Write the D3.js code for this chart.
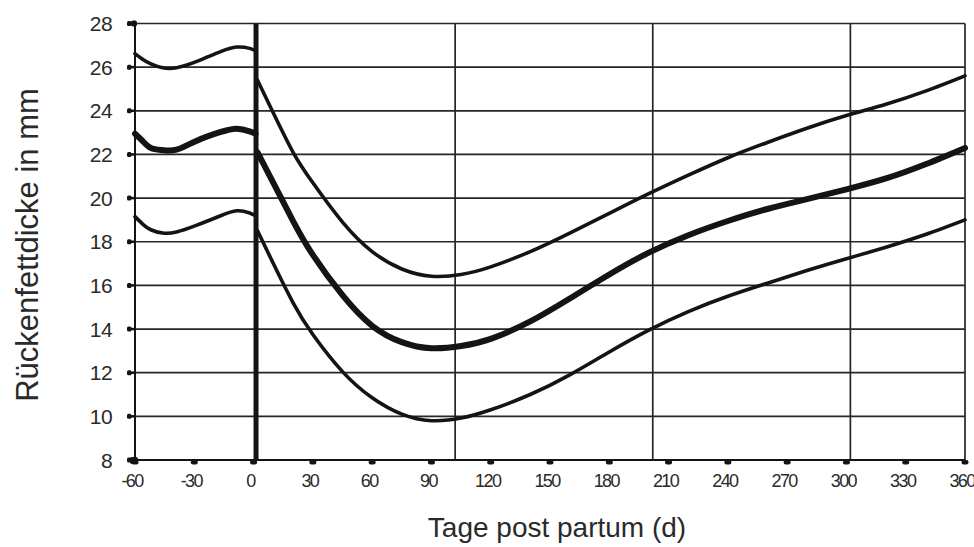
<!DOCTYPE html>
<html>
<head>
<meta charset="utf-8">
<script src="https://cdn.jsdelivr.net/npm/d3@7"></script>
<style>
  html, body { margin: 0; padding: 0; background: #fff; }
  svg { display: block; }
  text { font-family: "Liberation Sans", Arial, sans-serif; fill: #2a2a2a; }
</style>
</head>
<body>
<svg id="chart" width="974" height="547"></svg>
<script>
// Axis ticks
const xTicks = [-60, -30, 0, 30, 60, 90, 120, 150, 180, 210, 240, 270, 300, 330, 360];
const yTicks = [8, 10, 12, 14, 16, 18, 20, 22, 24, 26, 28];
// Vertical grid lines (days) and the day of parturition
const gridDays = [102, 202, 302];
const partumDay = 2;

// Backfat thickness (mm) before parturition: upper band, mean, lower band
const preDays   = [-60, -56, -52, -46, -39, -29, -17, -8.5, -2, 1];
const preUpper  = [26.62, 26.35, 26.15, 25.97, 25.97, 26.25, 26.7, 26.92, 26.86, 26.75];
const preMean   = [22.95, 22.6, 22.3, 22.2, 22.22, 22.62, 23.02, 23.18, 23.06, 22.95];
const preLower  = [19.15, 18.8, 18.55, 18.4, 18.45, 18.75, 19.18, 19.42, 19.32, 19.2];

// Backfat thickness (mm) after parturition
const postDays  = [2, 10, 20, 30, 45, 60, 75, 90, 105, 120, 140, 160, 180, 200, 220, 240, 260, 280, 300, 320, 340, 360];
const postUpper = [25.4, 23.9, 22.1, 20.7, 18.9, 17.55, 16.75, 16.42, 16.5, 16.85, 17.55, 18.4, 19.3, 20.2, 21.05, 21.85, 22.55, 23.2, 23.78, 24.3, 24.9, 25.6];
const postMean  = [22.1, 20.7, 18.95, 17.4, 15.55, 14.15, 13.4, 13.12, 13.22, 13.55, 14.35, 15.4, 16.5, 17.5, 18.3, 18.95, 19.5, 19.95, 20.4, 20.9, 21.55, 22.3];
const postLower = [18.5, 17.0, 15.2, 13.75, 12.05, 10.85, 10.1, 9.8, 9.92, 10.3, 11.0, 11.9, 12.95, 13.95, 14.8, 15.5, 16.1, 16.68, 17.22, 17.75, 18.33, 19.0];

const svg = d3.select("#chart");
const x = d3.scaleLinear().domain([-60, 360]).range([135, 965]);
const y = d3.scaleLinear().domain([8, 28]).range([460, 23.5]);
const ink = "#141414";

// Horizontal grid lines
svg.append("g").selectAll("line").data(yTicks).join("line")
  .attr("x1", x(-60)).attr("x2", x(360))
  .attr("y1", d => y(d)).attr("y2", d => y(d))
  .attr("stroke", "#262626").attr("stroke-width", 1.7);

// Vertical grid lines
svg.append("g").selectAll("line").data(gridDays.concat([360])).join("line")
  .attr("x1", d => x(d)).attr("x2", d => x(d))
  .attr("y1", y(28)).attr("y2", y(8))
  .attr("stroke", "#262626").attr("stroke-width", 1.7);

// Axes frame lines
svg.append("line").attr("x1", x(-60)).attr("x2", x(-60)).attr("y1", y(28)).attr("y2", y(8))
  .attr("stroke", ink).attr("stroke-width", 2);
svg.append("line").attr("x1", x(-60)).attr("x2", x(360)).attr("y1", y(8)).attr("y2", y(8))
  .attr("stroke", ink).attr("stroke-width", 2.2);

// Y ticks and labels
const yg = svg.append("g");
yg.selectAll("line").data(yTicks).join("line")
  .attr("x1", x(-60) - 7).attr("x2", x(-60))
  .attr("y1", d => y(d)).attr("y2", d => y(d))
  .attr("stroke", ink).attr("stroke-width", 2.5);
yg.selectAll("rect").data(yTicks).join("rect")
  .attr("x", x(-60) - 8).attr("y", d => y(d) - 2.5)
  .attr("width", 4.5).attr("height", 5).attr("rx", 1.5).attr("fill", ink);
yg.selectAll("text").data(yTicks).join("text")
  .attr("x", 112).attr("y", d => y(d))
  .attr("dy", "0.36em").attr("text-anchor", "end")
  .attr("font-size", 21).attr("letter-spacing", -0.6)
  .text(d => d);

// X ticks and labels
const xg = svg.append("g");
xg.selectAll("rect").data(xTicks).join("rect")
  .attr("x", d => x(d) - 3.5).attr("y", y(8))
  .attr("width", 7).attr("height", 4.5).attr("rx", 2).attr("fill", ink);
xg.selectAll("text").data(xTicks).join("text")
  .attr("x", d => x(d) - 3).attr("y", 486.5)
  .attr("text-anchor", "middle")
  .attr("font-size", 18).attr("letter-spacing", -1.6)
  .text(d => d);
// corner dots
svg.append("rect").attr("x", x(-60) - 5).attr("y", y(8) - 3).attr("width", 8).attr("height", 7).attr("rx", 2).attr("fill", ink);
svg.append("rect").attr("x", x(-60) - 4).attr("y", y(28) - 3).attr("width", 6).attr("height", 6).attr("rx", 2).attr("fill", ink);

// Parturition line
svg.append("line").attr("x1", x(partumDay) - 1.5).attr("x2", x(partumDay) - 1.5)
  .attr("y1", y(28)).attr("y2", y(8))
  .attr("stroke", ink).attr("stroke-width", 5);

// Curves
const line = d3.line().x(d => x(d[0])).y(d => y(d[1])).curve(d3.curveNatural);
const series = [
  { days: preDays, vals: preUpper, w: 3.6 },
  { days: preDays, vals: preMean, w: 6 },
  { days: preDays, vals: preLower, w: 3.6 },
  { days: postDays, vals: postUpper, w: 3.6 },
  { days: postDays, vals: postMean, w: 6 },
  { days: postDays, vals: postLower, w: 3.6 }
];
svg.append("g").selectAll("path").data(series).join("path")
  .attr("d", s => line(s.days.map((d, i) => [d, s.vals[i]])))
  .attr("fill", "none").attr("stroke", ink)
  .attr("stroke-width", s => s.w).attr("stroke-linecap", "round").attr("stroke-linejoin", "round");

// Axis titles
svg.append("text").attr("x", 557).attr("y", 537)
  .attr("text-anchor", "middle").attr("font-size", 28)
  .text("Tage post partum (d)");
svg.append("text")
  .attr("transform", "translate(38,245) rotate(-90)")
  .attr("text-anchor", "middle").attr("font-size", 31)
  .text("Rückenfettdicke in mm");
</script>
</body>
</html>
